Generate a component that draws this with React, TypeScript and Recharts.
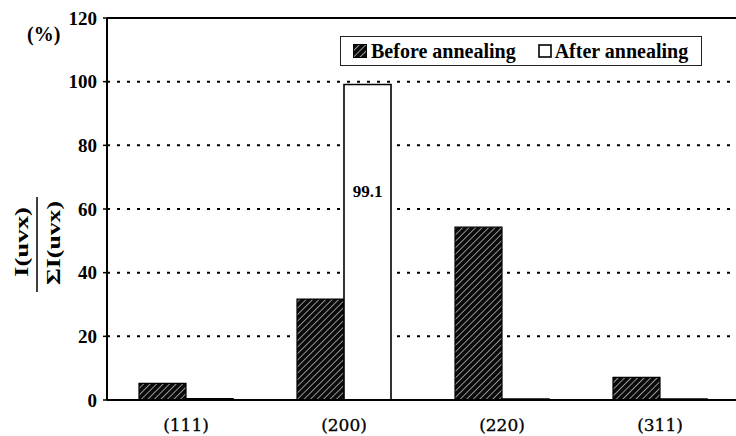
import React from "react";
import { BarChart, Bar, XAxis, YAxis, CartesianGrid, ReferenceLine, LabelList } from "recharts";

const categories = ["(111)", "(200)", "(220)", "(311)"];
const beforeValues = [5.2, 31.7, 54.3, 7.1];
const afterValues = [0.4, 99.1, 0.3, 0.3];
const yTicks = [0, 20, 40, 60, 80, 100, 120];
const seriesNames = ["Before annealing", "After annealing"];
const labeledIndex = 1;

const data = categories.map((c, i) => ({ name: c, before: beforeValues[i], after: afterValues[i] }));

const SERIF = "'Liberation Serif', 'Times New Roman', serif";

const XTick = (props: any) => {
  const { x, y, payload } = props;
  return (
    <text x={x} y={y + 31} textAnchor="middle" fontFamily="'DejaVu Serif', serif" fontSize={17} fill="#000" stroke="#000" strokeWidth={0.3}>
      {payload.value}
    </text>
  );
};

const ValueLabel = (props: any) => {
  const { x, y, width, value, index } = props;
  if (index !== labeledIndex) return null;
  return (
    <text x={x + width / 2} y={y + 112} textAnchor="middle" fontFamily={SERIF} fontWeight="bold" fontSize={17} fill="#000">
      {value}
    </text>
  );
};

const Hatch = ({ size }: { size: number }) => (
  <svg width={size} height={size} style={{ display: "block" }}>
    <rect x={0.5} y={0.5} width={size - 1} height={size - 1} fill="url(#hatch)" stroke="#000" strokeWidth={1} />
  </svg>
);

const Empty = ({ size }: { size: number }) => (
  <svg width={size} height={size} style={{ display: "block" }}>
    <rect x={1} y={1} width={size - 2} height={size - 2} fill="#fff" stroke="#000" strokeWidth={1.6} />
  </svg>
);

export default function App() {
  return (
    <div style={{ position: "absolute", left: 0, top: 0, width: 736, height: 436, overflow: "hidden", background: "#fff" }}>
      <svg width={0} height={0} style={{ position: "absolute" }}>
        <defs>
          <pattern id="hatch" patternUnits="userSpaceOnUse" width={4.6} height={4.6} patternTransform="rotate(45)">
            <rect width={4.6} height={4.6} fill="#0a0a0a" />
            <line x1={0} y1={0} x2={0} y2={4.6} stroke="#fff" strokeWidth={1.1} />
          </pattern>
        </defs>
      </svg>
      <BarChart
        width={745}
        height={436}
        data={data}
        margin={{ top: 18, right: 6, left: 0, bottom: 0 }}
        barCategoryGap={32}
        barGap={0}
      >
        <CartesianGrid vertical={false} stroke="#000" strokeWidth={2} strokeDasharray="3 7" />
        <XAxis
          dataKey="name"
          height={36}
          axisLine={{ stroke: "#000", strokeWidth: 2 }}
          tickLine={false}
          tickSize={0}
          tickMargin={0}
          tick={<XTick />}
          interval={0}
        />
        <YAxis
          width={107}
          domain={[0, 120]}
          ticks={yTicks}
          interval={0}
          axisLine={{ stroke: "#000", strokeWidth: 2 }}
          tickLine={{ stroke: "#000", strokeWidth: 1.5 }}
          tickSize={4}
          tickMargin={6}
          tick={{ fontFamily: SERIF, fontWeight: "bold", fontSize: 19, fill: "#000" }}
        />
        <ReferenceLine y={120} stroke="#000" strokeWidth={2} />
        <Bar dataKey="before" name={seriesNames[0]} fill="url(#hatch)" stroke="#000" strokeWidth={1.2} isAnimationActive={false} />
        <Bar dataKey="after" name={seriesNames[1]} fill="#fff" stroke="#000" strokeWidth={1.6} isAnimationActive={false}>
          <LabelList dataKey="after" content={<ValueLabel />} />
        </Bar>
      </BarChart>

      <svg width={110} height={436} style={{ position: "absolute", left: 0, top: 0, pointerEvents: "none" }}>
        <text x={27} y={41} fontFamily={SERIF} fontWeight="bold" fontSize={20} fill="#000">(%)</text>
        <line x1={37} y1={197} x2={37} y2={292} stroke="#000" strokeWidth={1.5} />
        <text
          x={21}
          y={242}
          transform="rotate(-90 21 242)"
          textAnchor="middle"
          dominantBaseline="central"
          fontFamily={SERIF}
          fontWeight="bold"
          fontSize={19}
          textLength={70}
          lengthAdjust="spacingAndGlyphs"
          fill="#000"
        >
          I(uvx)
        </text>
        <text
          x={53}
          y={243}
          transform="rotate(-90 53 243)"
          textAnchor="middle"
          dominantBaseline="central"
          fontFamily={SERIF}
          fontWeight="bold"
          fontSize={19}
          textLength={84}
          lengthAdjust="spacingAndGlyphs"
          fill="#000"
        >
          ΣI(uvx)
        </text>
      </svg>

      <div
        style={{
          position: "absolute",
          left: 340,
          top: 36,
          width: 362,
          height: 30,
          boxSizing: "border-box",
          border: "1px solid #222",
          background: "#fff",
          display: "flex",
          alignItems: "center",
          fontFamily: SERIF,
          fontWeight: "bold",
          fontSize: 20,
          color: "#000",
        }}
      >
        <div style={{ marginLeft: 12, marginRight: 4 }}><Hatch size={14} /></div>
        <span>{seriesNames[0]}</span>
        <div style={{ marginLeft: 22, marginRight: 3 }}><Empty size={14} /></div>
        <span>{seriesNames[1]}</span>
      </div>
    </div>
  );
}
